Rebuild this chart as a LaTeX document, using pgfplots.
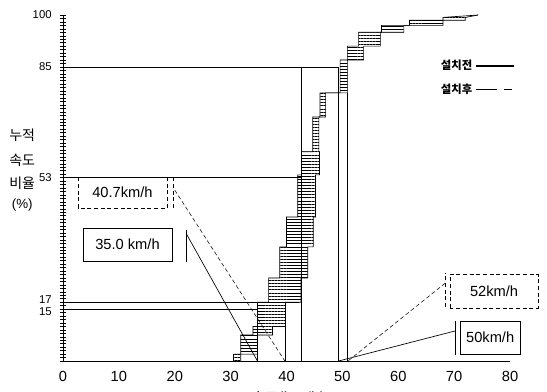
\documentclass[border=0pt]{standalone}
\usepackage{pgfplots}
\pgfplotsset{compat=1.18}
\usepgfplotslibrary{fillbetween}
\usetikzlibrary{patterns.meta}
\usepackage{fontspec}
\setmainfont{Liberation Sans}
\newfontfamily\kr{Noto Sans CJK KR}
\begin{document}
\begin{tikzpicture}
\begin{axis}[
  scale only axis,
  width=335.25pt, height=259.5pt,
  xmin=0, xmax=80, ymin=0, ymax=100,
  axis x line=bottom, axis y line=left,
  axis line style={-, black, line width=0.6pt},
  xtick={0,10,...,80},
  ytick={15,17,53,85,100},
  yticklabels={\raisebox{-5pt}[0pt][0pt]{15},\raisebox{-0.8pt}[0pt][0pt]{17},53,85,100},
  minor ytick={0,1,...,100},
  x tick style={draw=none},
  y tick style={black, line width=0.4pt},
  major tick length=4pt, minor tick length=4pt,
  tick align=center,
  /pgf/number format/assume math mode=true,
  xticklabel style={font=\fontsize{11}{12}\selectfont, yshift=-2pt},
  yticklabel style={font=\fontsize{8.5}{9}\selectfont, xshift=-3pt},
  clip=false,
  legend plot pos=right,
  legend style={draw=none, fill=none, at={(0.83,0.885)}, anchor=north west,
    font=\kr\bfseries\fontsize{8.5}{10}\selectfont, row sep=5pt},
  legend cell align=left,
  legend image code/.code={\draw[#1] (0cm,0cm) -- (1.0cm,0cm);},
]
% legend
\addlegendimage{black, line width=1.1pt}
\addlegendentry{설치전\hspace{8pt}}
\addlegendimage{black, line width=0.8pt, dash pattern=on 16pt off 5pt on 6pt off 2pt}
\addlegendentry{설치후\hspace{8pt}}

% cumulative speed curves (step outlines)
\addplot[name path=L, black, line width=0.5pt, forget plot] coordinates {
 (30.5,0) (30.5,2) (31.8,2) (31.8,7.5) (34,7.5) (34,10) (34.8,10) (34.8,17)
 (36.8,17) (36.8,24) (38.8,24) (38.8,33) (40,33) (40,41.6) (42,41.6) (42,53.8)
 (42.7,53.8) (42.7,60.5) (44.7,60.5) (44.7,70.5) (46,70.5) (46,77.5)
 (49.6,77.5) (49.6,87) (50.9,87) (50.9,91) (52.9,91) (52.9,95) (57,95) (57,97)
 (62,97) (62,98.5) (68,98.5) (68,99.3) (74.3,100)};
\addplot[name path=R, black, line width=0.5pt, forget plot] coordinates {
 (31.8,0) (31.8,2) (34.8,2) (34.8,7.5) (37.5,7.5) (37.5,10) (39.8,10) (39.8,17)
 (42.6,17) (42.6,24) (43.8,24) (43.8,33) (44.8,33) (44.8,41.6) (45.2,41.6) (45.2,53.8)
 (45.9,53.8) (45.9,60.5) (45.8,60.5) (45.8,70.5) (47,70.5) (47,77.5)
 (50.9,77.5) (50.9,87) (53.8,87) (53.8,91) (56.8,91) (56.8,95) (61,95) (61,97)
 (68,97) (68,98.5) (72,98.5) (72,99.3) (74.3,100)};
\addplot[draw=none, pattern={Lines[angle=0,distance=2.3pt,line width=0.55pt]}, pattern color=black, forget plot] fill between[of=L and R];

% reference lines
\addplot[black, line width=0.5pt, forget plot] coordinates {(0,85) (49.3,85)};
\addplot[black, line width=0.5pt, forget plot] coordinates {(0,53) (42.6,53)};
\addplot[black, line width=0.7pt, forget plot] coordinates {(0,17) (42.2,17)};
\addplot[black, line width=0.5pt, forget plot] coordinates {(0,15) (34.8,15)};
\addplot[black, line width=0.5pt, forget plot] coordinates {(34.8,0) (34.8,15)};
\addplot[black, line width=0.5pt, forget plot] coordinates {(39.8,0) (39.8,17)};
\addplot[black, line width=0.5pt, forget plot] coordinates {(42.6,0) (42.6,85)};
\addplot[black, line width=0.5pt, forget plot] coordinates {(49.3,0) (49.3,85)};
\addplot[black, line width=0.5pt, forget plot] coordinates {(50.9,0) (50.9,77.5)};

% annotation boxes and leaders
\draw[black, line width=0.5pt, dash pattern=on 3pt off 2pt] (axis cs:2.68,44.2) rectangle (axis cs:18.6,53.2);
\node[font=\fontsize{11}{12}\selectfont] at (axis cs:10.64,48.7) {40.7km/h};
\draw[black, line width=0.5pt, dash pattern=on 3pt off 2pt] (axis cs:19.7,44.2) -- (axis cs:19.7,53.2);
\draw[black, line width=0.4pt, dash pattern=on 3pt off 2pt] (axis cs:20.0,49.4) -- (axis cs:39.7,0);

\draw[black, line width=0.5pt] (axis cs:3.58,28.9) rectangle (axis cs:19.5,38.4);
\node[font=\fontsize{11}{12}\selectfont] at (axis cs:11.54,33.65) {35.0 km/h};
\draw[black, line width=0.5pt] (axis cs:22.0,28.6) -- (axis cs:22.0,37.9);
\draw[black, line width=0.5pt] (axis cs:22.1,36.7) -- (axis cs:34.8,0);

\draw[black, line width=0.5pt, dash pattern=on 3pt off 2pt] (axis cs:69.3,15.3) rectangle (axis cs:85.0,25.1);
\node[font=\fontsize{11}{12}\selectfont] at (axis cs:77.15,20.2) {52km/h};
\draw[black, line width=0.5pt, dash pattern=on 3pt off 2pt] (axis cs:68.4,15.6) -- (axis cs:68.4,25.4);
\draw[black, line width=0.4pt, dash pattern=on 3pt off 2pt] (axis cs:68.4,22.5) -- (axis cs:51.0,0);

\draw[black, line width=0.5pt] (axis cs:71.1,2.0) rectangle (axis cs:81.8,11.6);
\node[font=\fontsize{11}{12}\selectfont] at (axis cs:76.45,6.8) {50km/h};
\draw[black, line width=0.5pt] (axis cs:70.2,1.7) -- (axis cs:70.2,11.6);
\draw[black, line width=0.5pt] (axis cs:70.2,8.7) -- (axis cs:49.3,0);

% y label
\node[font=\kr\fontsize{10.5}{12}\selectfont] at (axis cs:-7.3,65.3) {누적};
\node[font=\kr\fontsize{10.5}{12}\selectfont] at (axis cs:-7.3,58.1) {속도};
\node[font=\kr\fontsize{10.5}{12}\selectfont] at (axis cs:-7.3,51.4) {비율};
\node[font=\fontsize{10}{12}\selectfont] at (axis cs:-7.3,45.1) {(\%)};
% x label (mostly cut off at the bottom edge, as in the source)
\node[font=\kr\fontsize{11}{12}\selectfont, anchor=north] at (axis cs:40.3,-7.5) {속도(km/h)};

\coordinate (bbBL) at (axis cs:-11.275,-8.67);
\coordinate (bbTR) at (axis cs:86.62,104.34);
\end{axis}
\pgfresetboundingbox
\path[use as bounding box] (bbBL) rectangle (bbTR);
\end{tikzpicture}
\end{document}
